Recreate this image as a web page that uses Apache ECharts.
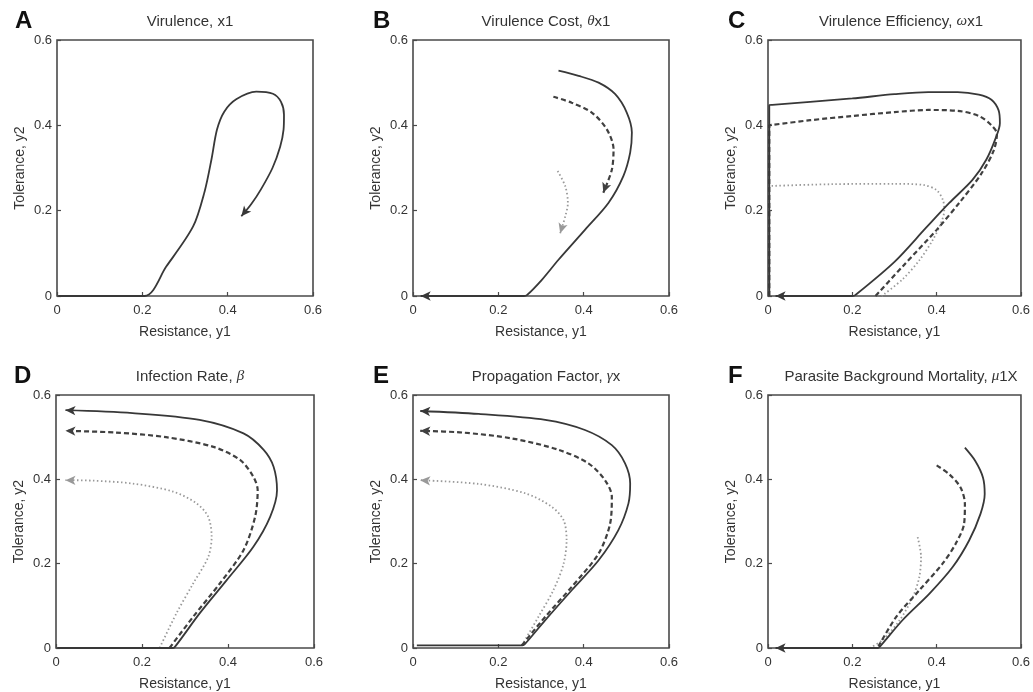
<!DOCTYPE html>
<html>
<head>
<meta charset="utf-8">
<title>Resistance / tolerance trajectories</title>
<script src="https://cdn.jsdelivr.net/npm/echarts@6/dist/echarts.min.js"></script>
<style>
  html, body { margin: 0; padding: 0; background: #fff; }
  #chart { width: 1033px; height: 692px; }
</style>
</head>
<body>
<div id="chart"></div>
<script>
// panel labels and titles ({g|..} = italic greek)
const panelLetters = ['A', 'B', 'C', 'D', 'E', 'F'];
const panelTitles = [
  'Virulence, x1',
  'Virulence Cost, {g|θ}x1',
  'Virulence Efficiency, {g|ω}x1',
  'Infection Rate, {g|β}',
  'Propagation Factor, {g|γ}x',
  'Parasite Background Mortality, {g|μ}1X'
];
const axisTicks = [0, 0.2, 0.4, 0.6];

// A - virulence
const aSolid = [[0.003, 0], [0.205, 0], [0.256, 0.069], [0.319, 0.163], [0.346, 0.245], [0.362, 0.32],
  [0.375, 0.39], [0.392, 0.432], [0.42, 0.461], [0.467, 0.479], [0.506, 0.474], [0.525, 0.455],
  [0.532, 0.425], [0.531, 0.39], [0.523, 0.35], [0.505, 0.3], [0.478, 0.25], [0.455, 0.215], [0.432, 0.187]];

// B - virulence cost
const bSolid = [[0.341, 0.528], [0.388, 0.516], [0.435, 0.5], [0.474, 0.473], [0.501, 0.43], [0.513, 0.383],
  [0.509, 0.336], [0.493, 0.281], [0.458, 0.218], [0.403, 0.155], [0.341, 0.085], [0.302, 0.038],
  [0.267, 0.002], [0.26, 0], [0.018, 0]];
const bDashed = [[0.329, 0.467], [0.372, 0.453], [0.419, 0.43], [0.454, 0.391], [0.47, 0.344],
  [0.466, 0.296], [0.446, 0.242]];
const bDotted = [[0.339, 0.293], [0.357, 0.257], [0.363, 0.218], [0.357, 0.187], [0.345, 0.147]];

// C - virulence efficiency
const cSolid = [[0.003, 0], [0.003, 0.44], [0.003, 0.447], [0.01, 0.448], [0.1, 0.455], [0.2, 0.463],
  [0.3, 0.473], [0.38, 0.478], [0.45, 0.478], [0.5, 0.472], [0.53, 0.46], [0.547, 0.435], [0.55, 0.405],
  [0.54, 0.37], [0.518, 0.32], [0.485, 0.272], [0.43, 0.218], [0.375, 0.16], [0.3, 0.08],
  [0.207, 0.002], [0.2, 0], [0.018, 0]];
const cDashed = [[0.003, 0], [0.003, 0.395], [0.003, 0.4], [0.01, 0.401], [0.1, 0.412], [0.2, 0.422],
  [0.3, 0.431], [0.38, 0.436], [0.45, 0.434], [0.5, 0.422], [0.53, 0.4], [0.543, 0.38], [0.535, 0.34],
  [0.505, 0.285], [0.455, 0.22], [0.4, 0.155], [0.32, 0.07], [0.255, 0]];
const cDotted = [[0.003, 0], [0.003, 0.252], [0.003, 0.257], [0.01, 0.258], [0.15, 0.262], [0.3, 0.263],
  [0.37, 0.26], [0.4, 0.248], [0.415, 0.225], [0.418, 0.2], [0.41, 0.17], [0.39, 0.13], [0.36, 0.085],
  [0.32, 0.04], [0.27, 0]];

// D - infection rate
const dSolid = [[0.003, 0], [0.27, 0], [0.276, 0.002], [0.334, 0.082], [0.397, 0.161], [0.459, 0.24],
  [0.498, 0.311], [0.514, 0.374], [0.506, 0.43], [0.483, 0.47], [0.436, 0.509], [0.334, 0.541],
  [0.178, 0.557], [0.022, 0.564]];
const dDashed = [[0.264, 0], [0.319, 0.074], [0.381, 0.153], [0.436, 0.232], [0.463, 0.311], [0.469, 0.374],
  [0.459, 0.406], [0.428, 0.446], [0.366, 0.477], [0.256, 0.5], [0.139, 0.511], [0.022, 0.515]];
const dDotted = [[0.241, 0], [0.28, 0.082], [0.319, 0.153], [0.354, 0.216], [0.362, 0.264], [0.354, 0.311],
  [0.327, 0.343], [0.272, 0.371], [0.178, 0.39], [0.084, 0.397], [0.022, 0.398]];

// E - propagation factor
const eSolid = [[0.009, 0.006], [0.255, 0.006], [0.262, 0.009], [0.31, 0.066], [0.372, 0.137], [0.435, 0.208],
  [0.481, 0.279], [0.505, 0.343], [0.509, 0.39], [0.497, 0.438], [0.466, 0.481], [0.403, 0.517],
  [0.31, 0.541], [0.154, 0.555], [0.017, 0.562]];
const eDashed = [[0.255, 0.006], [0.31, 0.074], [0.372, 0.145], [0.435, 0.224], [0.462, 0.295], [0.466, 0.359],
  [0.45, 0.398], [0.411, 0.438], [0.341, 0.47], [0.232, 0.497], [0.115, 0.511], [0.017, 0.515]];
const eDotted = [[0.255, 0.006], [0.294, 0.074], [0.329, 0.137], [0.353, 0.2], [0.36, 0.256], [0.353, 0.303],
  [0.325, 0.335], [0.263, 0.367], [0.154, 0.389], [0.017, 0.398]];

// F - parasite background mortality
const fSolid = [[0.467, 0.475], [0.492, 0.443], [0.51, 0.404], [0.514, 0.365], [0.504, 0.318], [0.477, 0.255],
  [0.438, 0.192], [0.383, 0.129], [0.32, 0.067], [0.266, 0.004], [0.26, 0], [0.018, 0]];
const fDashed = [[0.4, 0.433], [0.43, 0.412], [0.457, 0.38], [0.467, 0.341], [0.465, 0.294], [0.445, 0.247],
  [0.414, 0.2], [0.359, 0.137], [0.305, 0.075], [0.262, 0.004]];
const fDotted = [[0.355, 0.263], [0.363, 0.216], [0.359, 0.169], [0.344, 0.122], [0.313, 0.067],
  [0.273, 0.02], [0.242, 0]];

// [panel, points, style, arrow at end]
const curves = [
  [0, aSolid, 'solid', true],
  [1, bSolid, 'solid', true], [1, bDashed, 'dashed', true], [1, bDotted, 'dotted', true],
  [2, cDotted, 'dotted', false], [2, cDashed, 'dashed', false], [2, cSolid, 'solid', true],
  [3, dDotted, 'dotted', true], [3, dDashed, 'dashed', true], [3, dSolid, 'solid', true],
  [4, eDotted, 'dotted', true], [4, eDashed, 'dashed', true], [4, eSolid, 'solid', true],
  [5, fDotted, 'dotted', false], [5, fDashed, 'dashed', false], [5, fSolid, 'solid', true]
];

const lineStyles = {
  solid: { color: '#383838', width: 1.8, type: 'solid' },
  dashed: { color: '#404040', width: 2.2, type: [5, 3] },
  dotted: { color: '#999999', width: 1.8, type: [1.5, 2.5] }
};

// plot boxes
const boxes = [
  { left: 57, top: 40, width: 256, height: 256 },
  { left: 413, top: 40, width: 256, height: 256 },
  { left: 768, top: 40, width: 256, height: 256 },
  { left: 56, top: 395, width: 258, height: 254 },
  { left: 413, top: 395, width: 256, height: 254 },
  { left: 768, top: 395, width: 256, height: 254 }
];

const chart = echarts.init(document.getElementById('chart'));

const fmt = (v) => (Math.round(v * 10) / 10).toString();

const grids = [], xAxes = [], yAxes = [], titles = [];
boxes.forEach((b, i) => {
  grids.push(Object.assign({ show: true, borderColor: '#4a4a4a', borderWidth: 1.6, containLabel: false }, b));
  const common = {
    gridIndex: i, type: 'value', min: axisTicks[0], max: axisTicks[axisTicks.length - 1], interval: 0.2,
    nameLocation: 'middle',
    nameTextStyle: { fontSize: 14, color: '#333', fontFamily: 'Liberation Sans' },
    axisLine: { show: false },
    axisTick: { inside: true, length: 4, lineStyle: { color: '#4a4a4a', width: 1.2 } },
    axisLabel: { fontSize: 13, color: '#333', fontFamily: 'Liberation Sans', formatter: fmt },
    splitLine: { show: false }
  };
  xAxes.push(Object.assign({}, common, { name: 'Resistance, y1', nameGap: 29, axisLabel: Object.assign({}, common.axisLabel, { margin: 8 }) }));
  yAxes.push(Object.assign({}, common, { name: 'Tolerance, y2', nameGap: 30, axisLabel: Object.assign({}, common.axisLabel, { margin: 5 }) }));

  titles.push({
    text: panelTitles[i], left: b.left + b.width / 2, top: b.top - 31, textAlign: 'center',
    textStyle: {
      fontSize: 15, fontWeight: 'normal', color: '#333', fontFamily: 'Liberation Sans',
      rich: { g: { fontSize: 15, fontStyle: 'italic', color: '#333', fontFamily: 'Liberation Serif' } }
    }
  });
  titles.push({
    text: panelLetters[i], left: b.left - (i % 3 === 0 ? 47 : 45), top: b.top - 36,
    textStyle: { fontSize: 24, fontWeight: 'bold', color: '#111', fontFamily: 'Liberation Sans' }
  });
});

// arrow head on the last point, rotated along the curve
function withArrow(points) {
  const n = points.length;
  const p = points[n - 2], q = points[n - 1];
  const ang = Math.atan2(q[1] - p[1], q[0] - p[0]) * 180 / Math.PI;
  return points.map((pt, k) => k < n - 1 ? pt : {
    value: pt, symbol: 'arrow', symbolSize: [7, 10], symbolRotate: ang - 90
  });
}

const series = curves.map(([gi, pts, style, arrow]) => ({
  type: 'line',
  xAxisIndex: gi,
  yAxisIndex: gi,
  data: arrow ? withArrow(pts) : pts,
  smooth: 0.3,
  symbol: 'none',
  showSymbol: true,
  lineStyle: lineStyles[style],
  itemStyle: { color: lineStyles[style].color },
  silent: true
}));

chart.setOption({
  animation: false,
  backgroundColor: '#fff',
  title: titles,
  grid: grids,
  xAxis: xAxes,
  yAxis: yAxes,
  series: series
});
</script>
</body>
</html>
